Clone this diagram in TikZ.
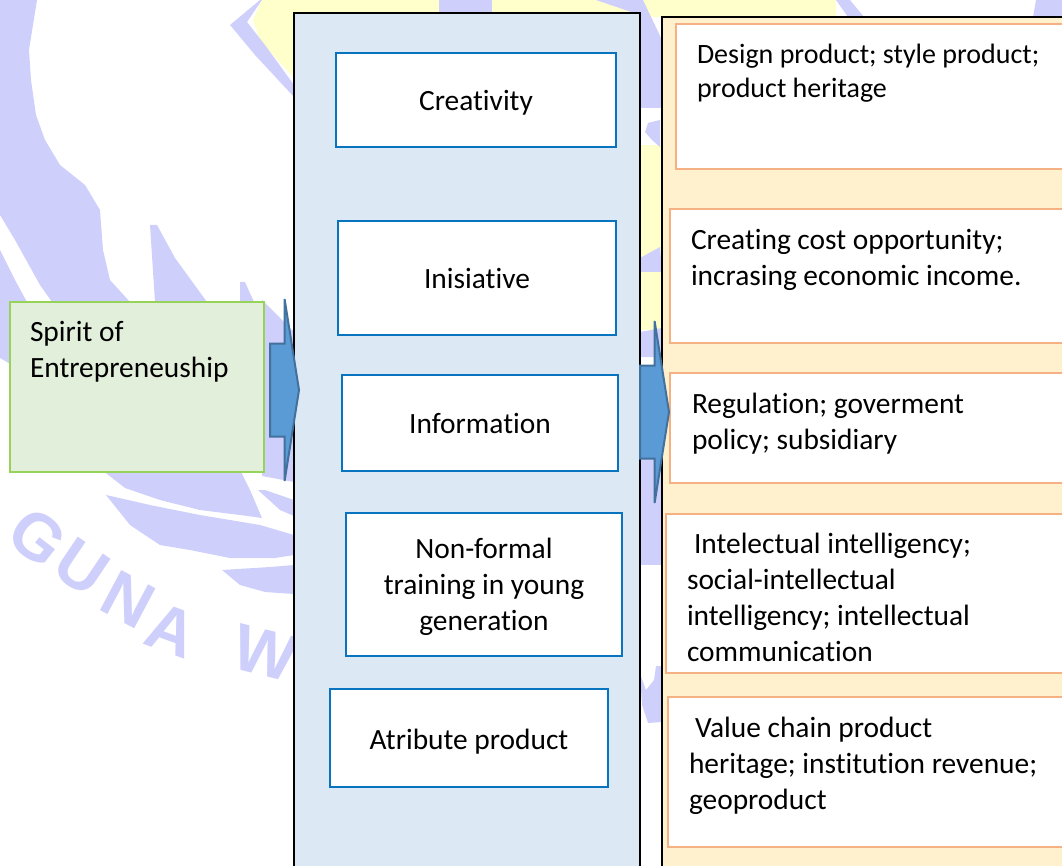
\documentclass[tikz,border=0pt]{standalone}
\usepackage{fontspec}
\setmainfont[Ligatures=NoCommon]{Carlito}
\newfontfamily\markfont{Liberation Sans}
\usetikzlibrary{shapes.arrows}
\definecolor{markblue}{HTML}{CFCFFC}
\definecolor{markyellow}{HTML}{FFFFCC}
\definecolor{panelblue}{HTML}{DDE8F5}
\definecolor{panelcream}{HTML}{FFF1CE}
\definecolor{boxblue}{HTML}{0873BE}
\definecolor{boxorange}{HTML}{F5B183}
\definecolor{boxgreen}{HTML}{97D35A}
\definecolor{greenfill}{HTML}{E2EFDA}
\definecolor{arrowfill}{HTML}{5B9BD5}
\definecolor{arrowline}{HTML}{41719C}

\begin{document}
\begin{tikzpicture}[x=1pt, y=-1pt,
		every node/.style={font=\fontsize{29.4}{36}\selectfont, text=black, outer sep=0pt},
		panel/.style={draw=black, line width=2pt, inner sep=0pt},
		midbox/.style={draw=boxblue, fill=white, line width=2pt, align=center, inner sep=0pt},
		oneline/.style={text height=21pt, text depth=0pt},
		sidebox/.style={draw=boxorange, fill=white, line width=2.5pt, inner sep=0pt},
		sidetext/.style={anchor=base west, align=left, inner sep=0pt},
		blockarrow/.style={single arrow, draw=arrowline, fill=arrowfill, line width=2pt, inner sep=0pt, anchor=tip,
			text height=45.5pt, text depth=45.5pt, minimum height=29pt, minimum width=180pt,
			single arrow head extend=44.5pt, single arrow tip angle=162},
		wmark/.style={font=\markfont\bfseries\fontsize{66}{66}\selectfont, text=markblue, inner sep=0pt}]
		\clip (0,0) rectangle (1062,866);
		
		\fill[markyellow] (262,0) -- (253,20) -- (260,40) -- (273,55) -- (294,78) -- (294,17) -- (836,17) -- (836,0) -- cycle;
		\fill[markyellow] (640,113) rectangle (662,330);
		\fill[white] (640,108) rectangle (662,145);
		
		\fill[markblue] (0,0) -- (37,0) -- (33,25) -- (29,50) -- (31,80) -- (36,115) -- (45,140) -- (60,165) -- (85,185) -- (100,210) -- (103,250) -- (110,280) -- (130,302) -- (52,302) -- (40,285) -- (15,240) -- (0,215) -- cycle;
		\fill[markblue] (0,250) -- (15,280) -- (27,302) -- (0,302) -- cycle;
		\fill[markblue] (150,225) -- (157,225) -- (175,258) -- (207,302) -- (155,302) -- cycle;
		\fill[markblue] (240,282) -- (245,282) -- (254,302) -- (240,302) -- cycle;
		\fill[markblue] (0,302) -- (12,302) -- (12,365) -- (0,358) -- cycle;
		\fill[markblue] (260,0) -- (230,25) -- (255,55) -- (294,97) -- (294,85) -- (265,45) -- (247,22) -- (262,0) -- cycle;
		\fill[markblue] (439,0) rectangle (492,15);
		\fill[markblue] (596,0) -- (643,0) -- (662,40) -- (662,108) -- (640,108) -- (640,15) -- cycle;
		\fill[markblue] (836,0) -- (850,0) -- (864,17) -- (848,17) -- cycle;
		\fill[markblue] (1036,0) -- (1062,0) -- (1062,17) -- (1033,17) -- cycle;
		\fill[markblue] (648,123) -- (660,120) -- (660,147) -- (652,140) -- (645,132) -- cycle;
		\fill[markblue] (640,258) -- (660,247) -- (662,272) -- (640,272) -- cycle;
		\fill[markblue] (640,332) -- (662,328) -- (662,357) -- (640,357) -- cycle;
		\fill[markblue] (640,440) rectangle (662,565);
		\fill[markblue] (640,674) -- (646,690) -- (654,680) -- (656,666) -- (662,666) -- (662,722) -- (648,723) -- (642,705) -- cycle;
		
		\fill[markblue] (262,300) -- (294,332) -- (294,482) -- (262,476) -- cycle;
		\fill[markblue] (102,470) -- (240,470) -- (250,490) -- (262,518) -- (240,515) -- (200,510) -- (160,500) -- (125,488) -- cycle;
		\fill[markblue] (106,495) -- (115,497) -- (150,505) -- (200,515) -- (260,525) -- (294,535) -- (294,555) -- (275,558) -- (230,558) -- (190,550) -- (160,545) -- (130,525) -- cycle;
		\fill[markblue] (258,490) -- (265,490) -- (294,500) -- (294,516) -- (280,510) -- cycle;
		\fill[markblue] (222,570) -- (270,567) -- (294,565) -- (294,594) -- (265,592) -- (240,585) -- cycle;
		
		\node[wmark, rotate=-38] (markg) at (38,537) {G};
		\node[wmark, rotate=-34] (marku) at (82,567) {U};
		\node[wmark, rotate=-28] (markn) at (128,600) {N};
		\node[wmark, rotate=-20] (marka) at (172,630) {A};
		\node[wmark, rotate=-14] (markw) at (265,653) {W};
		
		\node[panel, fill=panelblue, minimum width=346pt, minimum height=873pt] (midpanel) at (467,449.5) {};
		\node[panel, fill=panelcream, minimum width=420pt, minimum height=873pt] (sidepanel) at (872,453.5) {};
		
		\node[midbox, oneline, minimum width=280pt, minimum height=94pt] (creativity) at (476,100) {Creativity};
		\node[midbox, oneline, minimum width=278pt, minimum height=114pt] (inisiative) at (477,278) {Inisiative};
		\node[midbox, oneline, minimum width=276pt, minimum height=96pt] (information) at (480,423) {Information};
		\node[midbox, minimum width=276pt, minimum height=143pt] (nonformal) at (484,584.5) {\rule{0pt}{25pt}Non-formal\\training in young\\generation};
		\node[midbox, oneline, text height=23pt, minimum width=278pt, minimum height=98pt] (atribute) at (469,738) {Atribute product};
		
		\node[sidebox, minimum width=400pt, minimum height=145pt] (designbox) at (876,96.5) {};
		\node[sidebox, minimum width=406pt, minimum height=134pt] (costbox) at (873,276) {};
		\node[sidebox, minimum width=406pt, minimum height=110pt] (regulationbox) at (873,428) {};
		\node[sidebox, minimum width=410pt, minimum height=159pt] (intelectualbox) at (871,593.5) {};
		\node[sidebox, minimum width=408pt, minimum height=150pt] (valuebox) at (872,772) {};
		
		\node[sidetext, font=\fontsize{28}{34}\selectfont] (designtext) at (697,98) {Design product; style product;\\product heritage};
		\node[sidetext] (costtext) at (691,286) {Creating cost opportunity;\\incrasing economic income.};
		\node[sidetext] (regulationtext) at (692,449) {Regulation; goverment\\policy; subsidiary};
		\node[sidetext] (intelectualtext) at (687,661) {\hspace*{7pt}Intelectual intelligency;\\social-intellectual\\intelligency; intellectual\\communication};
		\node[sidetext] (valuetext) at (689,809) {\hspace*{6pt}Value chain product\\heritage; institution revenue;\\geoproduct};
		
		\node[draw=boxgreen, fill=greenfill, line width=2pt, minimum width=254pt, minimum height=170pt] (spiritbox) at (137,387) {};
		\node[sidetext] (spirittext) at (30,377.5) {Spirit of\\Entrepreneuship};
		
		\node[blockarrow] (arrowspirit) at (299,390) {};
		\node[blockarrow] (arrowside) at (669,412) {};
	\end{tikzpicture}
\end{document}
